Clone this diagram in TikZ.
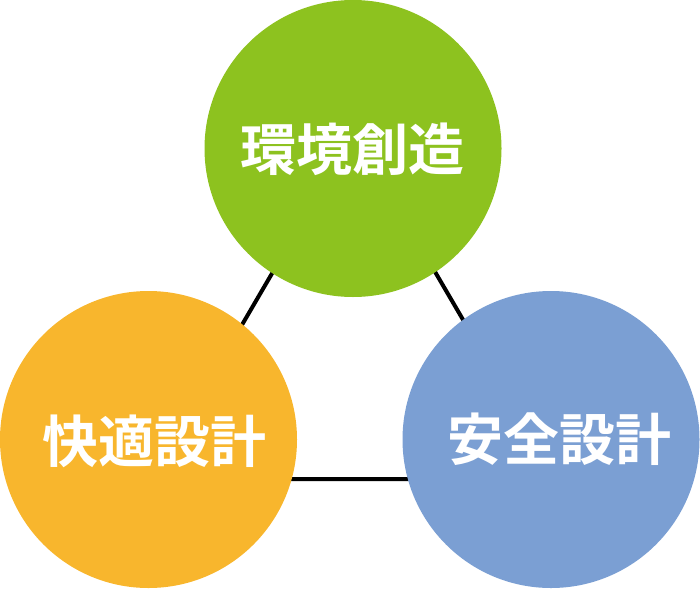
\documentclass[tikz,border=0pt]{standalone}
\usepackage{fontspec}
\newfontfamily\cjk{Noto Sans CJK JP}[BoldFont={* Bold}]
\definecolor{cgreen}{HTML}{8DC21F}
\definecolor{corange}{HTML}{F8B62D}
\definecolor{cblue}{HTML}{7B9FD3}
\tikzset{
  ball/.style={circle, minimum size=297pt, inner sep=0pt},
  caption/.style={inner sep=0pt, text=white,
    font=\cjk\bfseries\fontsize{56}{56}\selectfont},
  link/.style={line width=4pt, black}
}
\begin{document}
\begin{tikzpicture}[x=1pt,y=-1pt]
\useasboundingbox (0,0) rectangle (700,589);
\coordinate (ta) at (354,133);
\coordinate (tl) at (152,479);
\coordinate (tr) at (556,479);
\draw[link] (ta) -- (tl) -- (tr) -- cycle;
\node[ball, fill=cgreen] (env) at (353,148.5) {};
\node[ball, fill=corange] (com) at (148.5,439.5) {};
\node[ball, fill=cblue] (saf) at (551,439.5) {};
\node[caption] (envt) at (352,149) {環境創造};
\node[caption] (comt) at (154,441) {快適設計};
\node[caption] (saft) at (559,439) {安全設計};
\end{tikzpicture}
\end{document}
